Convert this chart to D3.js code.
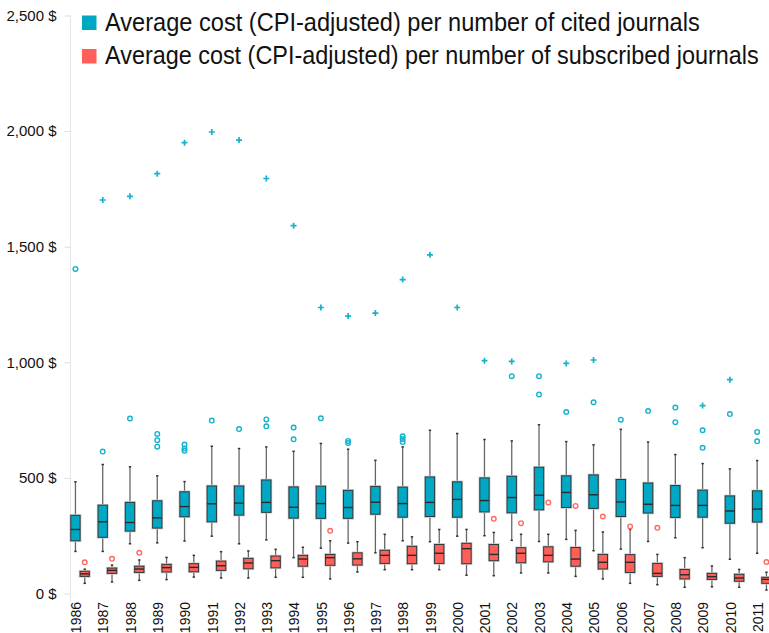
<!DOCTYPE html>
<html>
<head>
<meta charset="utf-8">
<script src="https://cdn.jsdelivr.net/npm/d3@7"></script>
<style>
  body { margin: 0; background: #fff; }
  text { font-family: "Liberation Sans", Arial, sans-serif; fill: #111; }
</style>
</head>
<body>
<div id="chart"></div>
<script>
const years = [1986, 1987, 1988, 1989, 1990, 1991, 1992, 1993, 1994, 1995, 1996, 1997, 1998,
  1999, 2000, 2001, 2002, 2003, 2004, 2005, 2006, 2007, 2008, 2009, 2010, 2011];

// [lower whisker, q1, median, q3, upper whisker]
const citedBoxes = [
  [182, 228, 277, 338, 483], [182, 243, 310, 382, 558], [215, 270, 307, 394, 548],
  [219, 283, 327, 401, 509], [227, 332, 376, 440, 484], [248, 310, 388, 465, 637],
  [215, 339, 391, 465, 627], [232, 351, 394, 491, 634], [155, 326, 373, 461, 615],
  [196, 325, 389, 464, 649], [218, 325, 372, 446, 624], [176, 343, 395, 463, 576],
  [228, 330, 389, 460, 634], [224, 333, 394, 504, 706], [248, 330, 407, 483, 692],
  [250, 353, 402, 500, 666], [230, 349, 415, 507, 660], [225, 362, 425, 546, 730],
  [234, 372, 437, 509, 657], [185, 368, 427, 513, 643], [192, 333, 396, 493, 710],
  [225, 348, 386, 478, 655], [241, 329, 381, 467, 601], [198, 330, 381, 447, 562],
  [148, 304, 357, 422, 539], [174, 309, 365, 444, 575]];

const citedOutliers = [[1404], [614], [757], [690, 663, 635], [644, 627, 617], [748], [711],
  [753, 723], [718, 667], [758], [660, 651], [], [680, 668, 655], [], [], [], [940],
  [940, 861], [785], [827], [752], [789], [804, 741], [706, 630], [776], [699, 658]];

// far outliers drawn as "+"
const citedExtremes = [[], [1702], [1718], [1816], [1950], [1996], [1961], [1795], [1591],
  [1237], [1200], [1213], [1358], [1465], [1237], [1007], [1004], [], [995], [1010], [], [],
  [], [813], [925], []];

const subscribedBoxes = [
  [44, 74, 85, 96, 105], [50, 87, 100, 110, 123], [57, 91, 106, 118, 145],
  [60, 93, 112, 126, 156], [71, 94, 113, 129, 165], [67, 100, 120, 140, 181],
  [67, 107, 132, 152, 184], [70, 111, 142, 162, 191], [70, 118, 149, 165, 200],
  [63, 122, 155, 169, 228], [93, 123, 150, 176, 224], [103, 130, 165, 187, 256],
  [103, 129, 165, 204, 245], [103, 130, 174, 212, 277], [79, 129, 194, 217, 277],
  [77, 142, 169, 212, 264], [89, 133, 174, 198, 256], [89, 137, 165, 202, 256],
  [74, 118, 149, 199, 273], [63, 106, 135, 169, 266], [44, 91, 135, 168, 277],
  [38, 74, 87, 130, 169], [27, 63, 81, 104, 155], [29, 61, 73, 87, 119],
  [27, 53, 67, 83, 104], [15, 44, 61, 70, 92]];

const subscribedOutliers = [[135], [150], [176], [], [], [], [], [], [], [271], [], [], [], [],
  [], [323], [304], [394], [379], [333], [290], [284], [], [], [], [136]];

const yTicks = [0, 500, 1000, 1500, 2000, 2500];
const legendLabels = ["Average cost (CPI-adjusted) per number of cited journals",
  "Average cost (CPI-adjusted) per number of subscribed journals"];

var width = 769, height = 633;
var boxW = 9.3;

var svg = d3.select("#chart")
  .append("svg")
    .attr("width", width)
    .attr("height", height);

var x = d3.scalePoint().domain(years).range([80.1, 761.8]);
var y = d3.scaleLinear().domain([0, 2500]).range([593.5, 15.5]);

// y axis
var yAxis = svg.append("g")
  .attr("transform", "translate(70.5,0)")
  .call(d3.axisLeft(y).tickValues(yTicks).tickSize(6).tickPadding(8)
    .tickFormat(d => d3.format(",")(d) + " $"));
yAxis.select(".domain").attr("stroke", "#e6e6e6").attr("d", "M0," + y(2500) + "V" + (y(0) + 8));
yAxis.selectAll(".tick line").attr("stroke", "#dddddd");
yAxis.selectAll(".tick text")
  .attr("font-size", "15px")
  .attr("fill", "#111")
  .style("font-family", "'Liberation Sans', Arial, sans-serif");

// year labels
svg.append("g").selectAll("text")
  .data(years)
  .join("text")
    .attr("transform", d => "translate(" + (x(d) - 3.8) + ",602) rotate(-90)")
    .attr("dy", "0.35em")
    .attr("text-anchor", "end")
    .attr("font-size", "14px")
    .text(d => d);

function drawSeries(boxes, outliers, extremes, fill, outColor, offset) {
  var g = svg.append("g");
  years.forEach(function(yr, i) {
    var b = boxes[i];
    var cx = x(yr) + offset;
    // whisker
    g.append("line")
      .attr("x1", cx).attr("x2", cx)
      .attr("y1", y(b[0])).attr("y2", y(b[4]))
      .attr("stroke", "#666").attr("stroke-width", 1.3);
    [b[0], b[4]].forEach(function(v) {
      g.append("line")
        .attr("x1", cx - 1.2).attr("x2", cx + 1.2)
        .attr("y1", y(v)).attr("y2", y(v))
        .attr("stroke", "#333").attr("stroke-width", 1.5);
    });
    // soft halo then box
    g.append("rect")
      .attr("x", cx - boxW / 2 - 0.5).attr("y", y(b[3]) - 0.5)
      .attr("width", boxW + 1).attr("height", y(b[1]) - y(b[3]) + 1)
      .attr("fill", "none").attr("stroke", "#c8c8c8").attr("stroke-width", 1.5);
    g.append("rect")
      .attr("x", cx - boxW / 2).attr("y", y(b[3]))
      .attr("width", boxW).attr("height", y(b[1]) - y(b[3]))
      .attr("fill", fill).attr("stroke", "#2d3a3e").attr("stroke-width", 1);
    g.append("line")
      .attr("x1", cx - boxW / 2).attr("x2", cx + boxW / 2)
      .attr("y1", y(b[2])).attr("y2", y(b[2]))
      .attr("stroke", "#2a2a2a").attr("stroke-width", 1.4);
    outliers[i].forEach(function(v) {
      g.append("circle")
        .attr("cx", cx).attr("cy", y(v)).attr("r", 2.3)
        .attr("fill", "none").attr("stroke", outColor).attr("stroke-width", 1.4);
    });
    extremes[i].forEach(function(v) {
      g.append("path")
        .attr("d", "M" + (cx - 3) + "," + y(v) + "h6M" + cx + "," + (y(v) - 3) + "v6")
        .attr("stroke", outColor).attr("stroke-width", 1.7);
    });
  });
}

drawSeries(citedBoxes, citedOutliers, citedExtremes, "#00a8c4", "#17b2cc", -boxW / 2);
drawSeries(subscribedBoxes, subscribedOutliers, years.map(() => []), "#ff5f58", "#ff6a64", boxW / 2);

// legend - text squeezed horizontally to the reference width
var legend = svg.append("g");
var legendColors = ["#00a8c4", "#ff5f58"];
var legendLengths = [595, 654];
legendLabels.forEach(function(t, i) {
  legend.append("rect")
    .attr("x", 82).attr("y", 15.5 + i * 33.5)
    .attr("width", 14.5).attr("height", 14.5)
    .attr("fill", legendColors[i]);
  var txt = legend.append("text")
    .attr("font-size", "25px")
    .text(t);
  var natural = txt.node().getComputedTextLength();
  txt.attr("transform", "translate(105," + (30.7 + i * 33) + ") scale(" + (legendLengths[i] / natural) + ",1)");
});
</script>
</body>
</html>
